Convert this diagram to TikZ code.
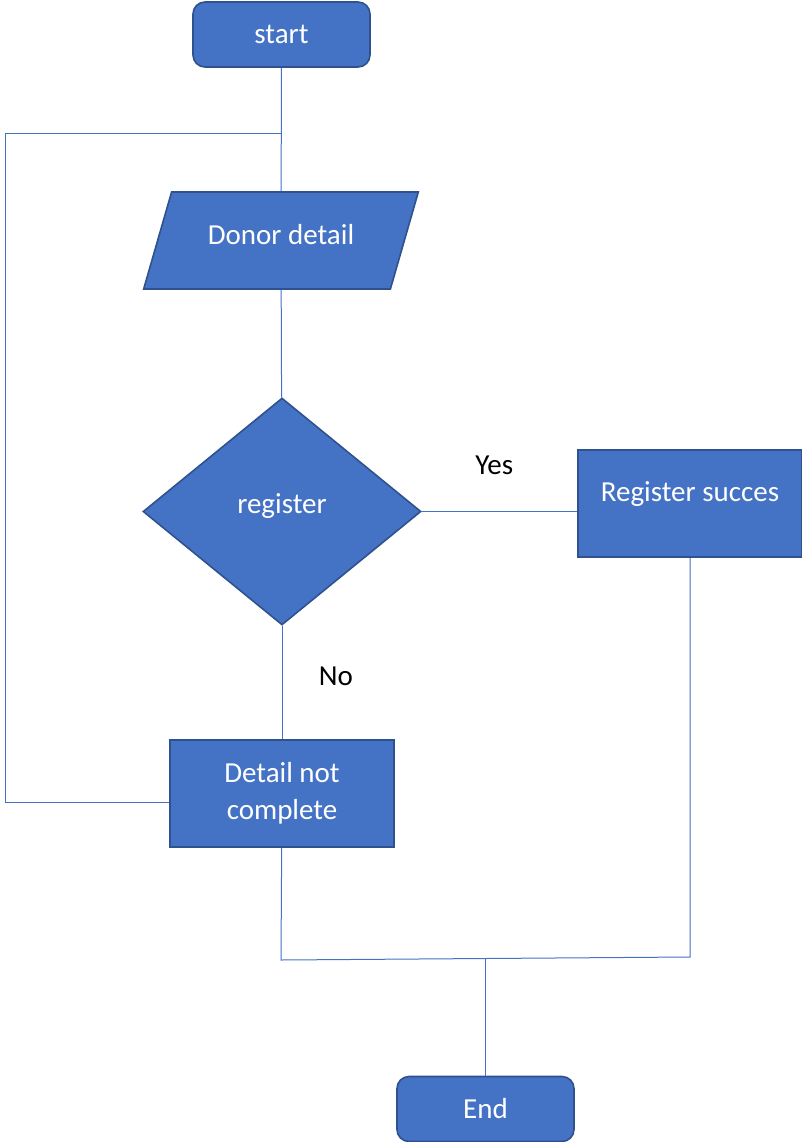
\documentclass[tikz,border=0pt]{standalone}
\usepackage{fontspec}
\setmainfont{Carlito}
\usepackage{tikz}
\usetikzlibrary{shapes,arrows,positioning}

\definecolor{boxblue}{HTML}{4472C4}
\definecolor{edgeblue}{HTML}{2F528F}

\begin{document}
\begin{tikzpicture}[
    x=0.75pt, y=-0.75pt,
    font=\fontsize{21.75pt}{27.75pt}\selectfont,
    flowbox/.style={draw=edgeblue, line width=1.2pt, fill=boxblue, text=white, align=center, inner sep=0pt},
    terminal/.style={flowbox, rectangle, rounded corners=9pt, minimum width=132.75pt, minimum height=48.75pt},
    iobox/.style={flowbox, trapezium, trapezium left angle=49, trapezium right angle=131, minimum width=206pt, minimum height=72.75pt, trapezium stretches body},
    decision/.style={flowbox, diamond, aspect=1.22, minimum width=208.5pt, minimum height=170.25pt},
    process/.style={flowbox, rectangle, minimum width=168pt, minimum height=80.25pt},
    link/.style={draw=boxblue, line width=0.75pt}
]
\useasboundingbox (0,0) rectangle (802,1142);

% --- Nodes ---
\node[iobox, text depth=9pt] (donor) at (281,240.5) {Donor detail};
\node[terminal] (start) at (281.5,34.5) {start};
\node[decision, text depth=12pt] (register) at (282,511.5) {register};
\node[process, text depth=18pt] (success) at (690,503.5) {Register succes};
\node[process] (incomplete) at (282,793.5) {Detail not\\complete};
\node[terminal] (finish) at (485.5,1109) {End};

% --- Junctions ---
\coordinate (looptop) at (281,133);
\coordinate (loopleft) at (5,133);
\coordinate (joinL) at (281,960);
\coordinate (joinR) at (690,957);
\coordinate (joinM) at (485.5,958.5);

% --- Connectors ---
\draw[link] (start) -- (donor);
\draw[link] (donor) -- (register);
\draw[link] (register.east) -- node[above=24pt, black, xshift=-4pt] {Yes} (success.west |- register.east);
\draw[link] (register) -- node[right=24pt, black, yshift=5pt] {No} (incomplete);
\draw[link] ([yshift=-6.5pt]incomplete.west) -| (loopleft) -- (looptop);
\draw[link] (incomplete) -- (joinL) -- (joinR) -- (success);
\draw[link] (joinM) -- (finish);

\end{tikzpicture}
\end{document}
